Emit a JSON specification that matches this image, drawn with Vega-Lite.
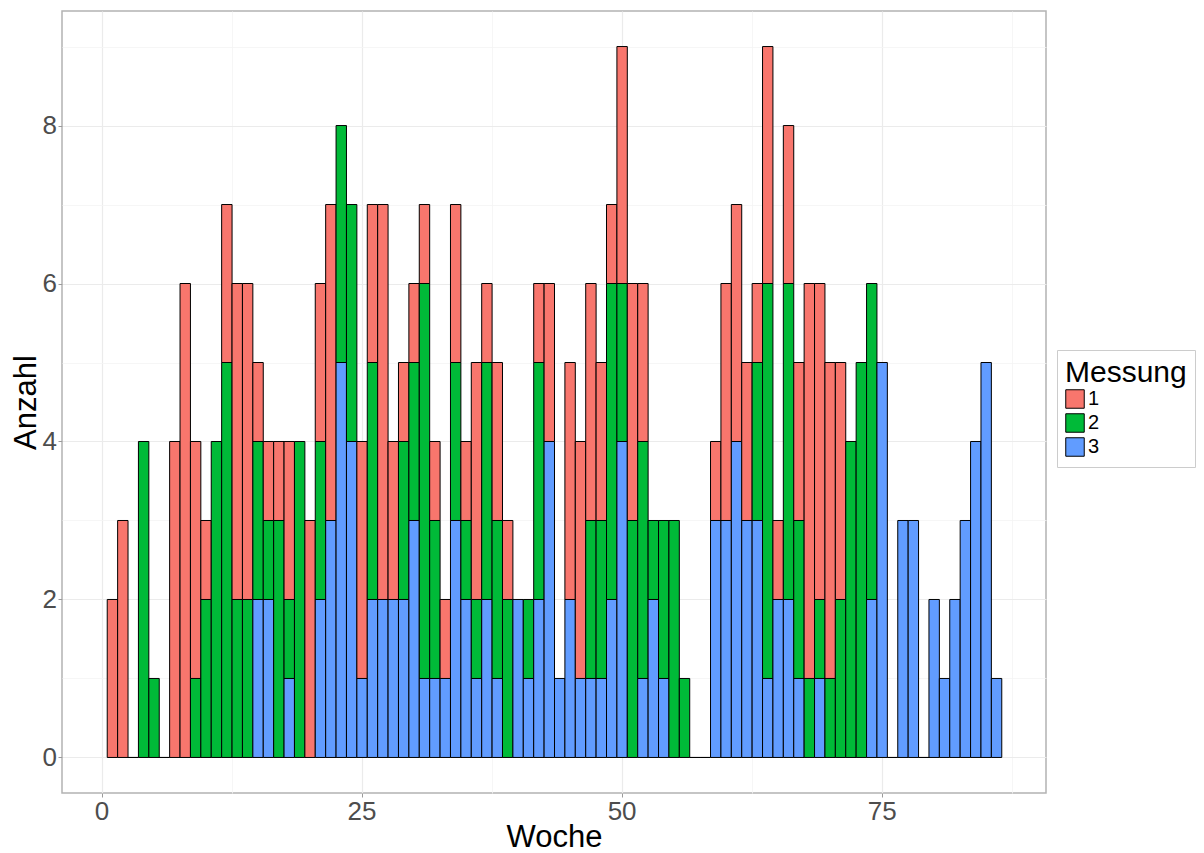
{
  "$schema": "https://vega.github.io/schema/vega-lite/v6.json",
  "width": 984,
  "height": 782,
  "autosize": {"type": "none"},
  "padding": {"left": 62, "top": 11, "right": 158, "bottom": 60},
  "background": "white",
  "config": {
    "font": "Liberation Sans",
    "view": {"stroke": "#b3b3b3", "strokeWidth": 1.5},
    "axis": {
      "domain": false,
      "grid": true,
      "labelFontSize": 26,
      "labelColor": "#4d4d4d",
      "tickColor": "#9a9a9a",
      "tickSize": 4,
      "labelPadding": 1.5,
      "titleFontSize": 31,
      "titleFontWeight": "normal",
      "titleColor": "black",
      "labelFlush": false,
      "labelOverlap": false
    },
    "legend": {
      "orient": "none",
      "legendX": 995,
      "legendY": 339,
      "padding": 8,
      "strokeColor": "#cccccc",
      "titleFontSize": 30,
      "titleFontWeight": "normal",
      "titleColor": "black",
      "titlePadding": 1,
      "labelFontSize": 20,
      "labelColor": "black",
      "labelOffset": 3,
      "symbolType": "square",
      "symbolSize": 342,
      "symbolStrokeColor": "black",
      "symbolStrokeWidth": 1,
      "symbolOpacity": 1,
      "rowPadding": 0
    }
  },
  "data": {
    "values": [
      {"w": 1, "m": "1", "n": 2},
      {"w": 2, "m": "1", "n": 3},
      {"w": 3, "m": "3", "n": 0},
      {"w": 4, "m": "2", "n": 4},
      {"w": 5, "m": "2", "n": 1},
      {"w": 6, "m": "3", "n": 0},
      {"w": 7, "m": "1", "n": 4},
      {"w": 8, "m": "1", "n": 6},
      {"w": 9, "m": "2", "n": 1}, {"w": 9, "m": "1", "n": 3},
      {"w": 10, "m": "2", "n": 2}, {"w": 10, "m": "1", "n": 1},
      {"w": 11, "m": "2", "n": 4},
      {"w": 12, "m": "2", "n": 5}, {"w": 12, "m": "1", "n": 2},
      {"w": 13, "m": "2", "n": 2}, {"w": 13, "m": "1", "n": 4},
      {"w": 14, "m": "2", "n": 2}, {"w": 14, "m": "1", "n": 4},
      {"w": 15, "m": "3", "n": 2}, {"w": 15, "m": "2", "n": 2}, {"w": 15, "m": "1", "n": 1},
      {"w": 16, "m": "3", "n": 2}, {"w": 16, "m": "2", "n": 1}, {"w": 16, "m": "1", "n": 1},
      {"w": 17, "m": "2", "n": 3}, {"w": 17, "m": "1", "n": 1},
      {"w": 18, "m": "3", "n": 1}, {"w": 18, "m": "2", "n": 1}, {"w": 18, "m": "1", "n": 2},
      {"w": 19, "m": "2", "n": 4},
      {"w": 20, "m": "1", "n": 3},
      {"w": 21, "m": "3", "n": 2}, {"w": 21, "m": "2", "n": 2}, {"w": 21, "m": "1", "n": 2},
      {"w": 22, "m": "3", "n": 3}, {"w": 22, "m": "1", "n": 4},
      {"w": 23, "m": "3", "n": 5}, {"w": 23, "m": "2", "n": 3},
      {"w": 24, "m": "3", "n": 4}, {"w": 24, "m": "2", "n": 3},
      {"w": 25, "m": "3", "n": 1}, {"w": 25, "m": "1", "n": 3},
      {"w": 26, "m": "3", "n": 2}, {"w": 26, "m": "2", "n": 3}, {"w": 26, "m": "1", "n": 2},
      {"w": 27, "m": "3", "n": 2}, {"w": 27, "m": "1", "n": 5},
      {"w": 28, "m": "3", "n": 2}, {"w": 28, "m": "1", "n": 2},
      {"w": 29, "m": "3", "n": 2}, {"w": 29, "m": "2", "n": 2}, {"w": 29, "m": "1", "n": 1},
      {"w": 30, "m": "3", "n": 3}, {"w": 30, "m": "2", "n": 2}, {"w": 30, "m": "1", "n": 1},
      {"w": 31, "m": "3", "n": 1}, {"w": 31, "m": "2", "n": 5}, {"w": 31, "m": "1", "n": 1},
      {"w": 32, "m": "3", "n": 1}, {"w": 32, "m": "2", "n": 2}, {"w": 32, "m": "1", "n": 1},
      {"w": 33, "m": "3", "n": 1}, {"w": 33, "m": "1", "n": 1},
      {"w": 34, "m": "3", "n": 3}, {"w": 34, "m": "2", "n": 2}, {"w": 34, "m": "1", "n": 2},
      {"w": 35, "m": "3", "n": 2}, {"w": 35, "m": "2", "n": 1}, {"w": 35, "m": "1", "n": 1},
      {"w": 36, "m": "3", "n": 1}, {"w": 36, "m": "2", "n": 1}, {"w": 36, "m": "1", "n": 3},
      {"w": 37, "m": "3", "n": 2}, {"w": 37, "m": "2", "n": 3}, {"w": 37, "m": "1", "n": 1},
      {"w": 38, "m": "3", "n": 1}, {"w": 38, "m": "2", "n": 2}, {"w": 38, "m": "1", "n": 2},
      {"w": 39, "m": "2", "n": 2}, {"w": 39, "m": "1", "n": 1},
      {"w": 40, "m": "3", "n": 2},
      {"w": 41, "m": "3", "n": 1}, {"w": 41, "m": "2", "n": 1},
      {"w": 42, "m": "3", "n": 2}, {"w": 42, "m": "2", "n": 3}, {"w": 42, "m": "1", "n": 1},
      {"w": 43, "m": "3", "n": 4}, {"w": 43, "m": "1", "n": 2},
      {"w": 44, "m": "3", "n": 1},
      {"w": 45, "m": "3", "n": 2}, {"w": 45, "m": "1", "n": 3},
      {"w": 46, "m": "3", "n": 1}, {"w": 46, "m": "1", "n": 3},
      {"w": 47, "m": "3", "n": 1}, {"w": 47, "m": "2", "n": 2}, {"w": 47, "m": "1", "n": 3},
      {"w": 48, "m": "3", "n": 1}, {"w": 48, "m": "2", "n": 2}, {"w": 48, "m": "1", "n": 2},
      {"w": 49, "m": "3", "n": 2}, {"w": 49, "m": "2", "n": 4}, {"w": 49, "m": "1", "n": 1},
      {"w": 50, "m": "3", "n": 4}, {"w": 50, "m": "2", "n": 2}, {"w": 50, "m": "1", "n": 3},
      {"w": 51, "m": "2", "n": 3}, {"w": 51, "m": "1", "n": 3},
      {"w": 52, "m": "3", "n": 1}, {"w": 52, "m": "2", "n": 3}, {"w": 52, "m": "1", "n": 2},
      {"w": 53, "m": "3", "n": 2}, {"w": 53, "m": "2", "n": 1},
      {"w": 54, "m": "3", "n": 1}, {"w": 54, "m": "2", "n": 2},
      {"w": 55, "m": "2", "n": 3},
      {"w": 56, "m": "2", "n": 1},
      {"w": 57, "m": "3", "n": 0},
      {"w": 58, "m": "3", "n": 0},
      {"w": 59, "m": "3", "n": 3}, {"w": 59, "m": "1", "n": 1},
      {"w": 60, "m": "3", "n": 3}, {"w": 60, "m": "1", "n": 3},
      {"w": 61, "m": "3", "n": 4}, {"w": 61, "m": "1", "n": 3},
      {"w": 62, "m": "3", "n": 3}, {"w": 62, "m": "1", "n": 2},
      {"w": 63, "m": "3", "n": 3}, {"w": 63, "m": "2", "n": 2}, {"w": 63, "m": "1", "n": 1},
      {"w": 64, "m": "3", "n": 1}, {"w": 64, "m": "2", "n": 5}, {"w": 64, "m": "1", "n": 3},
      {"w": 65, "m": "3", "n": 2}, {"w": 65, "m": "1", "n": 1},
      {"w": 66, "m": "3", "n": 2}, {"w": 66, "m": "2", "n": 4}, {"w": 66, "m": "1", "n": 2},
      {"w": 67, "m": "3", "n": 1}, {"w": 67, "m": "2", "n": 2}, {"w": 67, "m": "1", "n": 2},
      {"w": 68, "m": "2", "n": 1}, {"w": 68, "m": "1", "n": 5},
      {"w": 69, "m": "3", "n": 1}, {"w": 69, "m": "2", "n": 1}, {"w": 69, "m": "1", "n": 4},
      {"w": 70, "m": "2", "n": 1}, {"w": 70, "m": "1", "n": 4},
      {"w": 71, "m": "2", "n": 2}, {"w": 71, "m": "1", "n": 3},
      {"w": 72, "m": "2", "n": 4},
      {"w": 73, "m": "2", "n": 5},
      {"w": 74, "m": "3", "n": 2}, {"w": 74, "m": "2", "n": 4},
      {"w": 75, "m": "3", "n": 5},
      {"w": 76, "m": "3", "n": 0},
      {"w": 77, "m": "3", "n": 3},
      {"w": 78, "m": "3", "n": 3},
      {"w": 79, "m": "3", "n": 0},
      {"w": 80, "m": "3", "n": 2},
      {"w": 81, "m": "3", "n": 1},
      {"w": 82, "m": "3", "n": 2},
      {"w": 83, "m": "3", "n": 3},
      {"w": 84, "m": "3", "n": 4},
      {"w": 85, "m": "3", "n": 5},
      {"w": 86, "m": "3", "n": 1}
    ]
  },
  "mark": {"type": "bar", "stroke": "black", "strokeWidth": 1, "binSpacing": 0, "opacity": 1},
  "encoding": {
    "x": {
      "field": "w",
      "type": "quantitative",
      "bin": {"step": 1, "anchor": 0.5, "extent": [0.5, 86.5], "nice": false},
      "scale": {"domain": [-3.8, 90.8], "nice": false, "zero": false},
      "axis": {
        "title": "Woche",
        "grid": true,
        "values": [0, 12.5, 25, 37.5, 50, 62.5, 75, 87.5],
        "format": "d",
        "labelExpr": "datum.value % 25 === 0 ? datum.label : ''",
        "gridColor": {"condition": {"test": "datum.value % 25 === 0", "value": "#ebebeb"}, "value": "#f4f4f4"},
        "gridWidth": {"condition": {"test": "datum.value % 25 === 0", "value": 1.2}, "value": 0.8},
        "tickOpacity": {"condition": {"test": "datum.value % 25 === 0", "value": 1}, "value": 0},
        "titleX": 492,
        "titleY": 53.5,
        "titleBaseline": "alphabetic",
        "titleAlign": "center"
      }
    },
    "y": {
      "aggregate": "sum",
      "field": "n",
      "type": "quantitative",
      "stack": "zero",
      "scale": {"domain": [-0.45, 9.45], "nice": false, "zero": false},
      "axis": {
        "title": "Anzahl",
        "grid": true,
        "values": [0, 1, 2, 3, 4, 5, 6, 7, 8, 9],
        "labelExpr": "datum.value % 2 === 0 ? datum.label : ''",
        "gridColor": {"condition": {"test": "datum.value % 2 === 0", "value": "#ebebeb"}, "value": "#f4f4f4"},
        "gridWidth": {"condition": {"test": "datum.value % 2 === 0", "value": 1.2}, "value": 0.8},
        "tickOpacity": {"condition": {"test": "datum.value % 2 === 0", "value": 1}, "value": 0},
        "titleAngle": 270,
        "titleX": -27,
        "titleY": 391,
        "titleBaseline": "alphabetic",
        "titleAlign": "center"
      }
    },
    "color": {
      "field": "m",
      "type": "nominal",
      "scale": {"domain": ["1", "2", "3"], "range": ["#F8766D", "#00BA38", "#619CFF"]},
      "legend": {"title": "Messung"}
    },
    "order": {"field": "m", "sort": "descending"}
  }
}
